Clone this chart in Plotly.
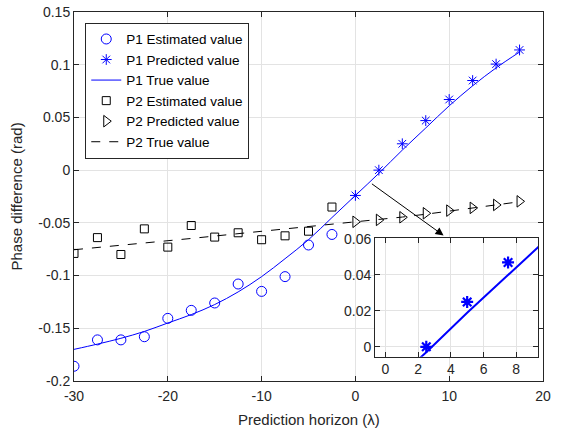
import plotly.graph_objects as go

# Prediction horizon samples
x_est = [-30, -27.5, -25, -22.5, -20, -17.5, -15, -12.5, -10, -7.5, -5, -2.5]
x_pred = [0, 2.5, 5, 7.5, 10, 12.5, 15, 17.5]
x_true = [-30, -27.5, -25, -22.5, -20, -17.5, -15, -12.5, -10, -7.5, -5, -2.5,
          0, 2.5, 5, 7.5, 10, 12.5, 15, 17.5]

# P1 phase difference (rad)
p1_est = [-0.186, -0.161, -0.161, -0.158, -0.1406, -0.133, -0.126, -0.108,
          -0.115, -0.101, -0.071, -0.061]
p1_pred = [-0.024, 0.000, 0.025, 0.047, 0.067, 0.085, 0.1006, 0.114]
p1_true = [-0.170, -0.165, -0.1595, -0.153, -0.145, -0.137, -0.1275, -0.1155,
           -0.101, -0.084, -0.066, -0.045, -0.024, -0.003, 0.019, 0.040,
           0.061, 0.080, 0.097, 0.112]

# P2 phase difference (rad)
p2_est = [-0.079, -0.064, -0.080, -0.0557, -0.073, -0.0525, -0.0635, -0.0594,
          -0.066, -0.0623, -0.0579, -0.035]
p2_pred = [-0.049, -0.0472, -0.0447, -0.0409, -0.0384, -0.0358, -0.033, -0.0296]
p2_true = [-0.0755, -0.0735, -0.0715, -0.0693, -0.067, -0.0648, -0.0625, -0.0603,
           -0.058, -0.0558, -0.0535, -0.0513, -0.049, -0.0468, -0.0445, -0.0418,
           -0.039, -0.0363, -0.0335, -0.030]

y_ticks = [0.15, 0.1, 0.05, 0, -0.05, -0.1, -0.15, -0.2]
y_tick_text = ["0.15", "0.1", "0.05", "0", "-0.05", "-0.1", "-0.15", "-0.2"]
x_ticks = [-30, -20, -10, 0, 10, 20]
x_tick_text = ["-30", "-20", "-10", "0", "10", "20"]
inset_x_ticks = [0, 2, 4, 6, 8]
inset_y_ticks = [0, 0.02, 0.04, 0.06]
inset_y_text = ["0", "0.02", "0.04", "0.06"]

BLUE = "#0000ff"
AX = "#262626"
GRID = "#e3e3e3"
FONT = "Liberation Sans, Arial, sans-serif"

fig = go.Figure()

fig.add_trace(go.Scatter(
    x=x_est, y=p1_est, mode="markers", name="P1 Estimated value",
    marker=dict(symbol="circle-open", size=10, color=BLUE, line=dict(width=1, color=BLUE))))
fig.add_trace(go.Scatter(
    x=x_pred, y=p1_pred, mode="markers", name="P1 Predicted value",
    marker=dict(symbol="asterisk-open", size=9, color=BLUE, line=dict(width=1, color=BLUE))))
fig.add_trace(go.Scatter(
    x=x_true, y=p1_true, mode="lines", name="P1 True value",
    line=dict(color=BLUE, width=1, shape="spline")))
fig.add_trace(go.Scatter(
    x=x_est, y=p2_est, mode="markers", name="P2 Estimated value",
    marker=dict(symbol="square-open", size=8, color="black", line=dict(width=1, color="black"))))
fig.add_trace(go.Scatter(
    x=x_pred, y=p2_pred, mode="markers", name="P2 Predicted value",
    marker=dict(symbol="triangle-right-open", size=10, color="black", line=dict(width=1, color="black"))))
fig.add_trace(go.Scatter(
    x=x_true, y=p2_true, mode="lines", name="P2 True value",
    line=dict(color="black", width=1, dash="dash")))

# Zoomed inset of the P1 prediction near zero
fig.add_trace(go.Scatter(
    x=x_true, y=p1_true, mode="lines", showlegend=False,
    line=dict(color=BLUE, width=2), xaxis="x2", yaxis="y2"))
fig.add_trace(go.Scatter(
    x=x_pred, y=p1_pred, mode="markers", showlegend=False,
    marker=dict(symbol="asterisk-open", size=10, color=BLUE, line=dict(width=2.2, color=BLUE)),
    xaxis="x2", yaxis="y2"))

axis_common = dict(
    showline=True, linecolor=AX, linewidth=1, mirror="ticks",
    ticks="inside", ticklen=5, tickcolor=AX, showgrid=True, gridcolor=GRID,
    gridwidth=1, zeroline=False, automargin=False,
    tickfont=dict(family=FONT, size=14, color=AX),
)

fig.update_layout(
    width=561, height=430,
    margin=dict(l=74, r=18, t=12, b=49),
    paper_bgcolor="white", plot_bgcolor="white",
    font=dict(family=FONT, size=14, color=AX),
    xaxis=dict(range=[-30, 20], tickvals=x_ticks, ticktext=x_tick_text, domain=[0, 1],
               ticklabelstandoff=2, **axis_common),
    yaxis=dict(range=[-0.2, 0.15], tickvals=y_ticks, ticktext=y_tick_text, domain=[0, 1],
               **axis_common),
    xaxis2=dict(range=[-0.63, 9.35], tickvals=inset_x_ticks, domain=[0.642, 0.990],
                anchor="y2", **axis_common),
    yaxis2=dict(range=[-0.0055, 0.0605], tickvals=inset_y_ticks, ticktext=inset_y_text,
                domain=[0.066, 0.387], anchor="x2", **axis_common),
    legend=dict(x=0.024, y=0.971, xanchor="left", yanchor="top",
                bgcolor="white", bordercolor=AX, borderwidth=1,
                font=dict(family=FONT, size=13.5, color="black"),
                tracegroupgap=0, itemwidth=30),
    showlegend=True,
)

# Axis titles
fig.add_annotation(
    text="Prediction horizon (λ)", xref="paper", yref="paper", x=0.5, y=0,
    yshift=-38, xanchor="center", yanchor="middle", showarrow=False,
    font=dict(family=FONT, size=15, color=AX))
fig.add_annotation(
    text="Phase difference (rad)", xref="paper", yref="paper", x=0, y=0.5,
    xshift=-58, xanchor="center", yanchor="middle", textangle=-90, showarrow=False,
    font=dict(family=FONT, size=15, color=AX))

fig.add_annotation(
    x=9.4, y=-0.062, ax=1.6, ay=-0.012, xref="x", yref="y", axref="x", ayref="y",
    text="", showarrow=True, arrowhead=2, arrowsize=1.6, arrowwidth=1, arrowcolor="black",
)

fig.write_html("out.html")
